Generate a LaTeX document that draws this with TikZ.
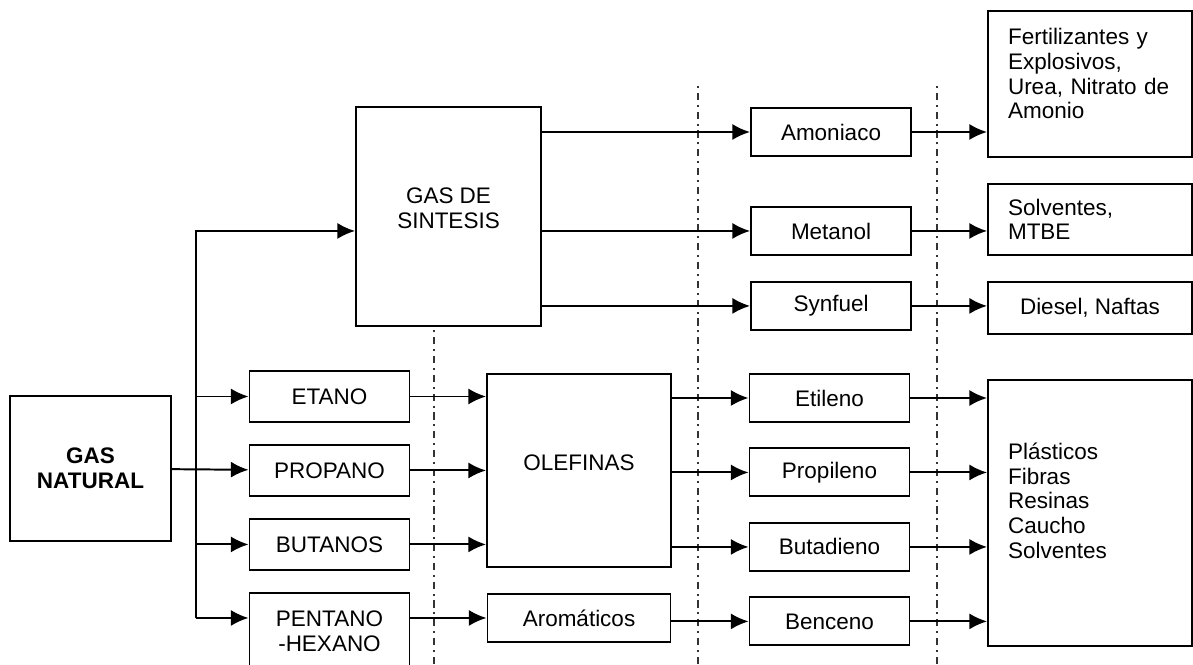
\documentclass[tikz,border=0pt]{standalone}
\usepackage{fontspec}
\setmainfont{Liberation Sans}
\usepackage{tikz}
\usetikzlibrary{positioning, arrows.meta}

\newcommand{\diagfont}{\fontsize{16pt}{17.6pt}\selectfont}

\begin{document}
\begin{tikzpicture}[
    every node/.style={font=\diagfont},
    box style/.style={draw, line width=1.4pt, minimum width=4cm, minimum height=1.2cm, align=center, inner sep=0pt},
    list style/.style={draw, line width=1.4pt, text width=4.1cm, inner xsep=0.5cm, align=left},
    flow style/.style={line width=1.4pt, -{Latex[length=0.44cm, width=0.4cm]}},
    cut style/.style={line width=0.9pt, black!80, dash pattern=on 0.18cm off 0.12cm on 0.05cm off 0.12cm}
  ]

  \useasboundingbox (0,0) rectangle (29.825,16.6);

  % Feed
  \node[box style, minimum width=4.025cm, minimum height=3.625cm, font=\diagfont\bfseries] (gasnat) at (2.2625,4.8875) {GAS\\NATURAL};

  % Fractions
  \node[box style, minimum height=1.275cm] (etano) at (8.2375,6.6875) {ETANO};
  \node[box style, minimum height=1.275cm, below=0.525cm of etano] (propano) {PROPANO};
  \node[box style, minimum height=1.275cm, below=0.525cm of propano] (butanos) {BUTANOS};
  \node[box style, minimum height=1.9cm, below=0.525cm of butanos] (pentano) {PENTANO\\-HEXANO};

  % Synthesis gas and olefins
  \node[box style, minimum width=4.625cm, minimum height=5.475cm] (sintesis) at (11.2125,11.1875) {GAS DE\\SINTESIS\\[-6pt]\mbox{}};
  \node[box style, minimum width=4.6cm, minimum height=4.825cm] (olefinas) at (14.475,4.8375) {OLEFINAS\\[-6pt]\mbox{}};
  \node[box style, minimum width=4.575cm, below=0.625cm of olefinas] (aromaticos) {Aromáticos};

  % Intermediates
  \node[box style] (amoniaco) at (20.775,13.3) {Amoniaco};
  \node[box style, below=1.225cm of amoniaco] (metanol) {Metanol};
  \node[box style, below=0.625cm of metanol] (synfuel) {Synfuel};

  \node[box style] (etileno) at (20.7375,6.65) {Etileno};
  \node[box style, below=0.6125cm of etileno] (propileno) {Propileno};
  \node[box style, below=0.6125cm of propileno] (butadieno) {Butadieno};
  \node[box style, below=0.6125cm of butadieno] (benceno) {Benceno};

  % Products
  \node[list style, minimum height=3.65cm] (fertil) at (27.25,14.5) {Fertilizantes y\\Explosivos,\\Urea, Nitrato de\\Amonio\\[-0.1cm]\mbox{}};
  \node[list style, minimum height=1.775cm, below=0.625cm of fertil] (solventes) {Solventes,\\MTBE};
  \node[box style, minimum width=5.1cm, minimum height=1.3cm, below=0.625cm of solventes] (diesel) {Diesel, Naftas};
  \node[list style, minimum height=6.65cm, below=1.1cm of diesel] (plasticos) {Plásticos\\Fibras\\Resinas\\Caucho\\Solventes\\[0cm]\mbox{}};

  % Stage limits
  \coordinate (cut1) at (10.85,0);
  \draw[cut style] (cut1) -- (cut1 |- sintesis.south);
  \draw[cut style] (17.45,0) -- (17.45,14.55);
  \draw[cut style] (23.425,0) -- (23.425,14.525);

  % Feed lines
  \coordinate (trunk) at (4.9,0);
  \draw[flow style] (gasnat) -- (propano);
  \draw[flow style] (trunk |- aromaticos) -- (trunk |- metanol) -- (sintesis.west |- metanol);
  \foreach \x in {etano, butanos}
    \draw[flow style] (trunk |- \x) -- (\x);
  \draw[flow style] (trunk |- aromaticos) -- (pentano.west |- aromaticos);

  % Into olefins and aromatics
  \foreach \x in {etano, propano, butanos}
    \draw[flow style] (\x) -- (olefinas.west |- \x);
  \draw[flow style] (pentano.east |- aromaticos) -- (aromaticos);

  % Out of synthesis gas, olefins and aromatics
  \foreach \x in {amoniaco, metanol, synfuel}
    \draw[flow style] (sintesis.east |- \x) -- (\x);
  \foreach \x in {etileno, propileno, butadieno}
    \draw[flow style] (olefinas.east |- \x) -- (\x);
  \draw[flow style] (aromaticos.east |- benceno) -- (benceno);

  % To products
  \draw[flow style] (amoniaco) -- (fertil.west |- amoniaco);
  \draw[flow style] (metanol) -- (solventes.west |- metanol);
  \draw[flow style] (synfuel) -- (diesel.west |- synfuel);
  \foreach \x in {etileno, propileno, butadieno, benceno}
    \draw[flow style] (\x) -- (plasticos.west |- \x);

\end{tikzpicture}
\end{document}
